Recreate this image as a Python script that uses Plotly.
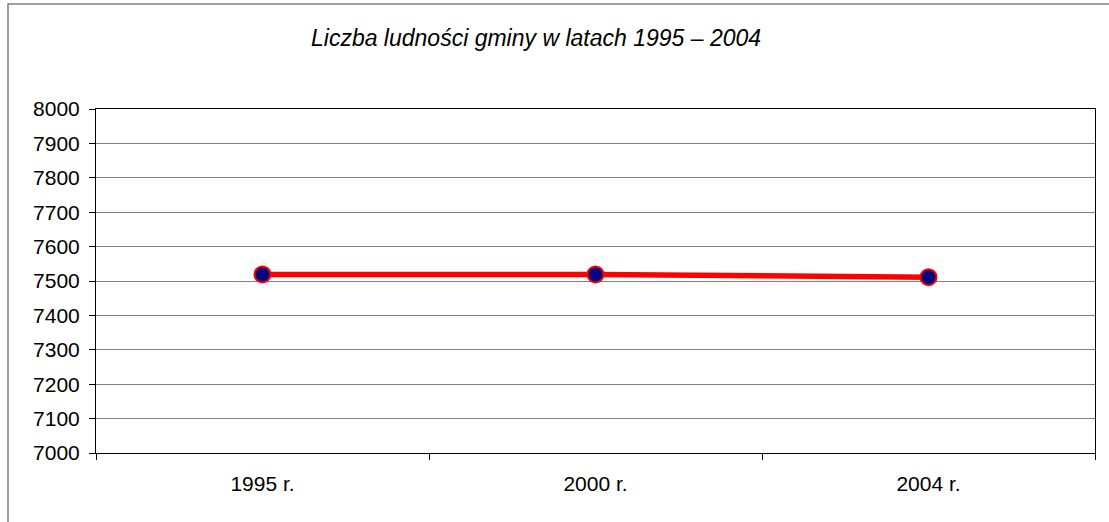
import plotly.graph_objects as go

categories = ["1995 r.", "2000 r.", "2004 r."]
population = [7519, 7519, 7511]
y_ticks = list(range(7000, 8001, 100))
title_text = "Liczba ludności gminy w latach 1995 – 2004"

W, H = 1109, 522
L, R, T, B = 96, 14, 109, 69
pw, ph = W - L - R, H - T - B

def px_x(p):
    return (p - L) / pw

def px_y(p):
    return (H - B - p) / ph

fig = go.Figure()
fig.add_trace(go.Scatter(
    x=categories, y=population, mode="lines+markers",
    line=dict(color="#FF0000", width=5.5),
    marker=dict(size=16, color="#000080", line=dict(color="#FF0000", width=2)),
    showlegend=False, hoverinfo="x+y",
))

fig.update_layout(
    width=W, height=H,
    margin=dict(l=L, r=R, t=T, b=B),
    paper_bgcolor="white", plot_bgcolor="white",
    font=dict(family="Liberation Sans, Arial, sans-serif", size=21, color="#000000"),
    showlegend=False,
)
fig.update_xaxes(
    type="category", range=[-0.5, 2.5], tickson="boundaries",
    ticks="outside", ticklen=6, tickcolor="#000000", tickwidth=1,
    showline=True, linecolor="#000000", linewidth=1, mirror=True,
    showgrid=False, zeroline=False, ticklabelstandoff=12,
)
fig.update_yaxes(
    range=[7000, 8000], tickvals=y_ticks, ticktext=[str(v) for v in y_ticks],
    ticks="outside", ticklen=6, tickcolor="#000000", tickwidth=1,
    showline=True, linecolor="#000000", linewidth=1, mirror=True,
    showgrid=True, gridcolor="#808080", gridwidth=1, zeroline=False,
    ticklabelstandoff=5,
)

fig.add_annotation(
    x=px_x(536), y=px_y(38), xref="paper", yref="paper",
    text=title_text, showarrow=False, xanchor="center", yanchor="middle",
    font=dict(family="Liberation Sans, Arial, sans-serif", size=23, style="italic", color="#000000"),
)
fig.add_shape(
    type="rect", xref="paper", yref="paper",
    x0=px_x(8), x1=px_x(1120), y0=px_y(530), y1=px_y(4),
    line=dict(color="#808080", width=1.5), fillcolor="rgba(0,0,0,0)", layer="below",
)

fig.write_html("out.html", config={"displayModeBar": False},
               post_script="document.body.style.margin='0px';")
